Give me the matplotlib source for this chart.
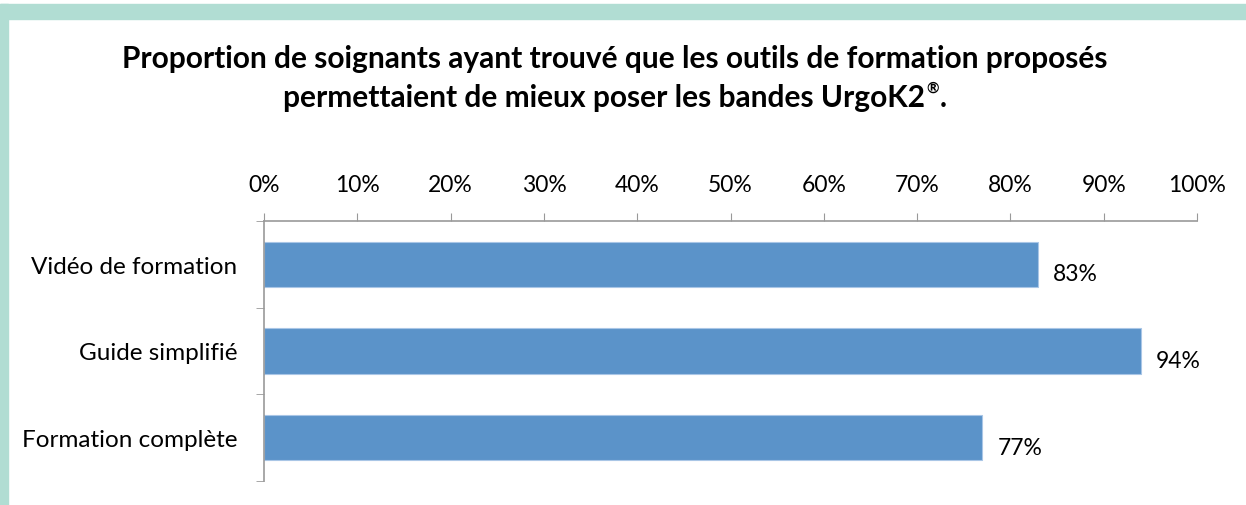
import matplotlib.pyplot as plt
from matplotlib.patches import Rectangle
import numpy as np

plt.rcParams['font.family'] = ['Lato', 'DejaVu Sans']

categories = ["Vidéo de formation", "Guide simplifié", "Formation complète"]
values = [0.83, 0.94, 0.77]
value_labels = ["83%", "94%", "77%"]
ticks = np.arange(0, 1.01, 0.1)
tick_labels = ["%d%%" % round(t * 100) for t in ticks]

fig = plt.figure(figsize=(12.46, 5.06), dpi=100)

# teal frame (top and left bands)
teal = "#b1ddd3"
fig.patches.append(Rectangle((0, 1 - 20 / 506), 1, 15 / 506, transform=fig.transFigure,
                             color=teal, zorder=0))
fig.patches.append(Rectangle((0, 0), 8 / 1246, 1 - 5 / 506, transform=fig.transFigure,
                             color=teal, zorder=0))

ax = fig.add_axes([264 / 1246, 24 / 506, 933 / 1246, 260 / 506])

y = np.arange(len(categories))
ax.barh(y, values, height=0.52, color="#5b93c9", edgecolor="#a9c6e6", linewidth=0.8)
ax.set_ylim(len(categories) - 0.5, -0.5)
ax.set_xlim(0, 1)

for yi, v, lab in zip(y, values, value_labels):
    ax.text(v + 0.016, yi + 0.11, lab, va="center", ha="left", fontsize=16.5)

ax.xaxis.tick_top()
ax.set_xticks(ticks)
ax.set_xticklabels(tick_labels, fontsize=16.5)
ax.tick_params(axis="x", direction="out", length=6, color="#999999", pad=13)

ax.set_yticks(y)
ax.set_yticklabels(categories, fontsize=17.5)
ax.set_yticks(np.arange(-0.5, len(categories)), minor=True)
ax.tick_params(axis="y", which="major", length=0, pad=19)
ax.tick_params(axis="y", which="minor", direction="out", length=6, color="#999999")

for s in ["right", "bottom"]:
    ax.spines[s].set_visible(False)
for s in ["top", "left"]:
    ax.spines[s].set_color("#999999")
    ax.spines[s].set_linewidth(1.2)

fig.text(615 / 1246, 1 - 59 / 506,
         "Proportion de soignants ayant trouvé que les outils de formation proposés",
         ha="center", va="center", fontsize=21.5, fontweight="bold")

# second line: text, small superscript (R) and the final dot
line2 = fig.text(0, 1 - 98 / 506, "permettaient de mieux poser les bandes UrgoK2",
                 ha="left", va="center", fontsize=21.5, fontweight="bold")
reg = fig.text(0, 1 - 89 / 506, "®", ha="left", va="center", fontsize=11, fontweight="bold")
dot = fig.text(0, 1 - 98 / 506, ".", ha="left", va="center", fontsize=21.5, fontweight="bold")
fig.canvas.draw()
r = fig.canvas.get_renderer()
w1 = line2.get_window_extent(r).width
w2 = reg.get_window_extent(r).width
w3 = dot.get_window_extent(r).width
x0 = 615 - (w1 + w2 + w3 + 2) / 2
line2.set_x(x0 / 1246)
reg.set_x((x0 + w1 + 1) / 1246)
dot.set_x((x0 + w1 + w2 + 2) / 1246)

fig.savefig("out.png", dpi=100)
